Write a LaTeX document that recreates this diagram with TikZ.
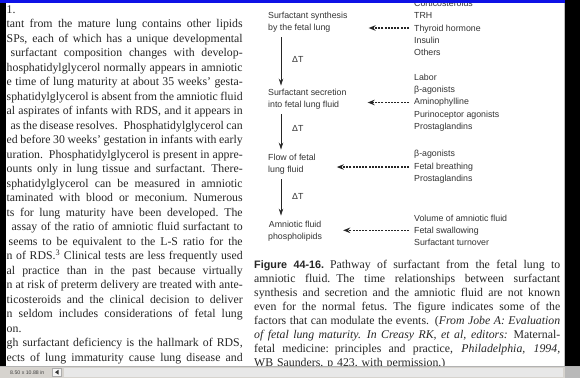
\documentclass[tikz,border=0pt]{standalone}
\usepackage{fontspec}
\setmainfont{Liberation Serif}
\setsansfont{Liberation Sans}
\usepackage{tikz}
\usetikzlibrary{calc}
\usetikzlibrary{arrows.meta}

\definecolor{winblue}{RGB}{14,18,230}
\definecolor{barface}{RGB}{214,211,206}
\newcommand{\bodyline}[1]{\leavevmode\hbox to 236pt{\spaceskip = 0.25em plus 1em minus 0.1em\relax #1}}
\newcommand{\capline}[1]{\leavevmode\hbox to 306pt{\spaceskip = 0.25em plus 1em minus 0.1em\relax #1}}

\tikzset{
  bodytext/.style = {anchor = north west, inner sep = 0pt, align = left, text width = 236pt, font = \fontsize{11.8}{14.5}\selectfont, text = black!85},
  captext/.style = {bodytext, text width = 306pt, font = \fontsize{11.8}{14}\selectfont},
  steplabel/.style = {anchor = west, inner sep = 0pt, align = left, font = \sffamily\fontsize{8.8}{12.3}\selectfont, text = black!80},
  pathway/.style = {line width = 0.7pt, black!85, -{Stealth[length = 7pt, width = 4.5pt]}},
  cue/.style = {line width = 1.2pt, black!85, dash pattern = on 2pt off 1.2pt, -{Stealth[length = 7pt, width = 5.5pt]}}
}

\begin{document}
\begin{tikzpicture}[x = 1pt, y = -1pt]
\useasboundingbox (0,0) rectangle (580,378);
\fill[white] (0,0) rectangle (580,378);

\draw (6.5,5.5) node[name = bodycol, bodytext]{1.\\
\bodyline{tant from the mature lung contains other lipids}\\
\bodyline{SPs, each of which has a unique developmental}\\
\bodyline{\hspace{4pt}surfactant composition changes with develop-}\\
\bodyline{hosphatidylglycerol normally appears in amniotic}\\
\bodyline{e time of lung maturity at about 35 weeks' gesta-}\\
\bodyline{sphatidylglycerol is absent from the amniotic fluid}\\
\bodyline{al aspirates of infants with RDS, and it appears in}\\
\bodyline{\hspace{4pt}as the disease resolves. Phosphatidylglycerol can}\\
\bodyline{ed before 30 weeks' gestation in infants with early}\\
\bodyline{uration. Phosphatidylglycerol is present in appre-}\\
\bodyline{ounts only in lung tissue and surfactant. There-}\\
\bodyline{sphatidylglycerol can be measured in amniotic}\\
\bodyline{taminated with blood or meconium. Numerous}\\
\bodyline{ts for lung maturity have been developed. The}\\
\bodyline{\hspace{5pt}assay of the ratio of amniotic fluid surfactant to}\\
\bodyline{\hspace{2pt}seems to be equivalent to the L-S ratio for the}\\
\bodyline{n of RDS.\textsuperscript{3} Clinical tests are less frequently used}\\
\bodyline{al practice than in the past because virtually}\\
\bodyline{n at risk of preterm delivery are treated with ante-}\\
\bodyline{ticosteroids and the clinical decision to deliver}\\
\bodyline{n seldom includes considerations of fetal lung}\\
on.\\
\bodyline{gh surfactant deficiency is the hallmark of RDS,}\\
\bodyline{ects of lung immaturity cause lung disease and}};

\draw (268,22) node[name = synth, steplabel]{Surfactant synthesis\\by the fetal lung};
\draw (268,99) node[name = secr, steplabel]{Surfactant secretion\\into fetal lung fluid};
\draw (268,164) node[name = flow, steplabel]{Flow of fetal\\lung fluid};
\draw (268,231) node[name = amnio, steplabel, align = center]{Amniotic fluid\\phospholipids};

\draw (292,59) node[name = dt1, steplabel]{ΔT};
\draw (292,128) node[name = dt2, steplabel]{ΔT};
\draw (292,196) node[name = dt3, steplabel]{ΔT};

\draw (414,28) node[name = cue1, steplabel]{Corticosteroids\\TRH\\Thyroid hormone\\Insulin\\Others};
\draw (414,102.5) node[name = cue2, steplabel]{Labor\\β-agonists\\Aminophylline\\Purinoceptor agonists\\Prostaglandins};
\draw (414,167) node[name = cue3, steplabel]{β-agonists\\Fetal breathing\\Prostaglandins};
\draw (414,230.3) node[name = cue4, steplabel]{Volume of amniotic fluid\\Fetal swallowing\\Surfactant turnover};

\draw[pathway] ([xshift = 13pt, yshift = -5pt]synth.south west) -- ([xshift = 13pt, yshift = 3pt]secr.north west);
\draw[pathway] ([xshift = 13pt, yshift = -5pt]secr.south west) -- ([xshift = 13pt, yshift = 4pt]flow.north west);
\draw[pathway] ([xshift = 13pt, yshift = -5pt]flow.south west) -- ([xshift = 13pt, yshift = 5pt]amnio.north west);

\draw[cue] ([xshift = -5pt]cue1.west) -- ([xshift = 21pt]synth.east |- cue1.west);
\draw[cue] ([xshift = -5pt]cue2.west) -- ([xshift = 21pt]secr.east |- cue2.west);
\draw[cue] ([xshift = -5pt]cue3.west) -- ([xshift = 21pt]flow.east |- cue3.west);
\draw[cue] ([xshift = -5pt]cue4.west) -- ([xshift = 21pt]amnio.east |- cue4.west);

\draw (254,260) node[name = caption, captext]{\capline{{\sffamily\bfseries\fontsize{10.8}{14}\selectfont Figure 44-16.} Pathway of surfactant from the fetal lung to}\\
\capline{amniotic fluid. The time relationships between surfactant}\\
\capline{synthesis and secretion and the amniotic fluid are not known}\\
\capline{even for the normal fetus. The figure indicates some of the}\\
\capline{factors that can modulate the events. (\textit{From Jobe A: Evaluation}}\\
\capline{\textit{of fetal lung maturity. In Creasy RK, et al, editors:} Maternal-}\\
\capline{fetal medicine: principles and practice, \textit{Philadelphia, 1994,}}\\
WB Saunders, p 423, with permission.)};

\fill[winblue] (0,0) rectangle (567,3);
\fill[black] (0,3) rectangle (6,366);
\draw[gray!50] (564.5,3) -- (564.5,366);
\fill[black] (565,0) rectangle (580,366);

\fill[barface] (0,366) rectangle (580,378);
\draw[gray!60] (0,366.5) -- (580,366.5);
\fill[gray!18] (64,368) rectangle (563,377);
\fill[gray!55] (565,367) rectangle (580,378);
\draw[gray!65, fill = gray!8] (52,368.5) rectangle (61,376);
\fill[black!80] (58.5,369.8) -- (55,372.2) -- (58.5,374.6) -- cycle;
\draw (10,372.3) node[name = pagesize, anchor = west, inner sep = 0pt, font = \sffamily\fontsize{5.2}{6}\selectfont, text = black!75]{8.50 x 10.88 in};
\end{tikzpicture}
\end{document}
